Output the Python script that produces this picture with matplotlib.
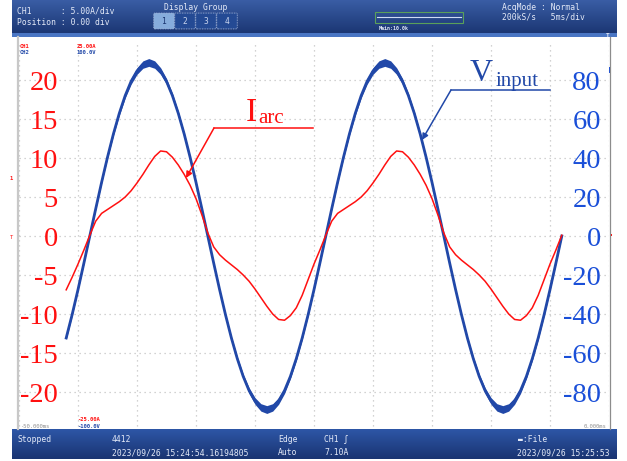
import numpy as np
import matplotlib.pyplot as plt
from matplotlib.patches import Rectangle, FancyBboxPatch

W, H = 627, 461

# sample times of the capture, 0.5 ms apart
t_ms = np.arange(-46.0, -3.75, 0.5)

# CH2: input voltage (V)
v_input = [
    -52.3, -40.4, -27.5, -13.9, 0.0, 13.9, 27.5, 40.4, 52.3, 62.9,
    72.0, 79.3, 84.6, 87.9, 89.0, 87.9, 84.6, 79.3, 72.0, 62.9,
    52.3, 40.4, 27.5, 13.9, 0.0, -13.9, -27.5, -40.4, -52.3, -62.9,
    -72.0, -79.3, -84.6, -87.9, -89.0, -87.9, -84.6, -79.3, -72.0, -62.9,
    -52.3, -40.4, -27.5, -13.9, 0.0, 13.9, 27.5, 40.4, 52.3, 62.9,
    72.0, 79.3, 84.6, 87.9, 89.0, 87.9, 84.6, 79.3, 72.0, 62.9,
    52.3, 40.4, 27.5, 13.9, 0.0, -13.9, -27.5, -40.4, -52.3, -62.9,
    -72.0, -79.3, -84.6, -87.9, -89.0, -87.9, -84.6, -79.3, -72.0, -62.9,
    -52.3, -40.4, -27.5, -13.9, 0.0,
]
# ripple band around the voltage trace (V)
v_ripple = [
    0.8, 0.6, 0.5, 0.4, 0.4, 0.4, 0.5, 0.6, 0.8, 1.0,
    1.2, 1.5, 1.7, 1.9, 2.0, 1.9, 1.7, 1.5, 1.2, 1.0,
    0.8, 0.6, 0.5, 0.4, 0.4, 0.4, 0.5, 0.6, 0.8, 1.0,
    1.2, 1.5, 1.7, 1.9, 2.0, 1.9, 1.7, 1.5, 1.2, 1.0,
    0.8, 0.6, 0.5, 0.4, 0.4, 0.4, 0.5, 0.6, 0.8, 1.0,
    1.2, 1.5, 1.7, 1.9, 2.0, 1.9, 1.7, 1.5, 1.2, 1.0,
    0.8, 0.6, 0.5, 0.4, 0.4, 0.4, 0.5, 0.6, 0.8, 1.0,
    1.2, 1.5, 1.7, 1.9, 2.0, 1.9, 1.7, 1.5, 1.2, 1.0,
    0.8, 0.6, 0.5, 0.4, 0.4,
]
# CH1: arc current (A)
i_arc = [
    -6.9, -5.3, -3.6, -1.8, 0.1, 1.9, 2.9, 3.4, 3.9, 4.4,
    5.0, 5.8, 6.8, 7.9, 9.1, 10.2, 10.9, 10.8, 10.1, 9.1,
    7.9, 6.5, 4.8, 2.7, 0.4, -1.4, -2.4, -3.1, -3.7, -4.3,
    -5.0, -5.8, -6.8, -7.9, -9.0, -10.0, -10.7, -10.8, -10.2, -9.2,
    -7.6, -5.6, -3.6, -1.8, 0.1, 1.9, 2.9, 3.4, 3.9, 4.4,
    5.0, 5.8, 6.8, 7.9, 9.1, 10.2, 10.9, 10.8, 10.1, 9.1,
    7.9, 6.5, 4.8, 2.7, 0.4, -1.4, -2.4, -3.1, -3.7, -4.3,
    -5.0, -5.8, -6.8, -7.9, -9.0, -10.0, -10.7, -10.8, -10.2, -9.2,
    -7.6, -5.6, -3.6, -1.8, 0.1,
]

cur_ticks = [20, 15, 10, 5, 0, -5, -10, -15, -20]
volt_ticks = [80, 60, 40, 20, 0, -20, -40, -60, -80]

RED = '#ff1010'
BLUE = '#2148a8'
LABEL_BLUE = '#1a4fd8'
BAR_TEXT = '#e4eaf8'
MONO = 'DejaVu Sans Mono'
SERIF = 'Liberation Serif'
GRID = dict(color='#c4c4c4', lw=0.9, ls=(0, (1, 3)))


def fx(x):
    return x / W


def fy(y):
    return 1 - y / H


fig = plt.figure(figsize=(W / 100, H / 100), dpi=100)
fig.patch.set_facecolor('white')

# --- waveform area -------------------------------------------------------
# current axis (left scale) and voltage axis (right scale)
ax_i = fig.add_axes([fx(19), fy(431), 590 / W, 390 / H])
ax_v = ax_i.twinx()

ax_i.set_xlim(-50, 0)
ax_i.set_ylim(-25, 25)
ax_v.set_ylim(-100, 100)
for a in (ax_i, ax_v):
    for s in a.spines.values():
        s.set_visible(False)
ax_i.set_xticks(np.arange(-50, 1, 5))
ax_i.set_yticks(cur_ticks)
ax_i.set_yticklabels([str(c) for c in cur_ticks])
ax_i.set_yticks([-25, 25], minor=True)
ax_i.grid(True, **GRID)
ax_i.tick_params(length=0, labelbottom=False)
ax_i.tick_params(axis='y', which='both', length=0, pad=-28, labelsize=20.5,
                 labelcolor=RED)
for lab in ax_i.get_yticklabels():
    lab.set_fontfamily(SERIF)

ax_v.set_yticks(volt_ticks)
ax_v.set_yticklabels([str(v) for v in volt_ticks])
ax_v.tick_params(axis='y', length=0, pad=-5.8, labelsize=20.5,
                 labelcolor=LABEL_BLUE)
for lab in ax_v.get_yticklabels():
    lab.set_fontfamily(SERIF)
    lab.set_horizontalalignment('right')

v = np.array(v_input)
rip = np.array(v_ripple)
ax_v.fill_between(t_ms, v - rip, v + rip, color=BLUE, lw=0, zorder=2)
ax_v.plot(t_ms, v, color=BLUE, lw=2.0, zorder=2, solid_joinstyle='round')

# current drawn over the voltage trace
ax_c = ax_i.twinx()
ax_c.set_ylim(-25, 25)
ax_c.set_axis_off()
ax_c.plot(t_ms, i_arc, color=RED, lw=1.1, zorder=3)


# arrowed labels
def ax_pt(x, y):
    return ((x - 19) / 590, (431 - y) / 390)


ax_c.plot(*zip(ax_pt(214, 128), ax_pt(313, 128)), transform=ax_c.transAxes,
          color=RED, lw=1.1, clip_on=False)
ax_c.annotate('', xy=ax_pt(186, 178), xytext=ax_pt(214, 128),
              xycoords='axes fraction', textcoords='axes fraction',
              arrowprops=dict(arrowstyle='-|>', color=RED, lw=1.1,
                              mutation_scale=9, shrinkA=0, shrinkB=0))
fig.text(fx(246), fy(121), 'I', color=RED, fontsize=24, family=SERIF)
fig.text(fx(258), fy(123), 'arc', color=RED, fontsize=15, family=SERIF)

ax_c.plot(*zip(ax_pt(451, 90), ax_pt(550, 90)), transform=ax_c.transAxes,
          color=BLUE, lw=1.1, clip_on=False)
ax_c.annotate('', xy=ax_pt(422, 140), xytext=ax_pt(451, 90),
              xycoords='axes fraction', textcoords='axes fraction',
              arrowprops=dict(arrowstyle='-|>', color=BLUE, lw=1.1,
                              mutation_scale=9, shrinkA=0, shrinkB=0))
fig.text(fx(470), fy(81), 'V', color=BLUE, fontsize=23, family=SERIF)
fig.text(fx(496), fy(86), 'input', color=BLUE, fontsize=15, family=SERIF)

# frame edges of the screen area
fig.add_artist(plt.Line2D([fx(18), fx(18)], [fy(37), fy(429)], color='#c8c8c8', lw=1.6))
fig.add_artist(plt.Line2D([fx(609.5), fx(609.5)], [fy(37), fy(429)], color='#8c8c8c', lw=0.9))

# channel scale notes inside the grid
fig.text(fx(20), fy(47.5), 'CH1', color=RED, fontsize=4, family=MONO, weight='bold')
fig.text(fx(77), fy(47.5), '25.00A', color=RED, fontsize=4, family=MONO, weight='bold')
fig.text(fx(20), fy(54.5), 'CH2', color=BLUE, fontsize=4, family=MONO, weight='bold')
fig.text(fx(77), fy(54.5), '100.0V', color=BLUE, fontsize=4, family=MONO, weight='bold')
fig.text(fx(77), fy(421), '-25.00A', color=RED, fontsize=4, family=MONO, weight='bold')
fig.text(fx(77), fy(427.5), '-100.0V', color=BLUE, fontsize=4, family=MONO, weight='bold')
fig.text(fx(20), fy(427.5), '-50.000ms', color='#909090', fontsize=4, family=MONO)
fig.text(fx(606), fy(427.5), '0.000ms', color='#909090', fontsize=4, family=MONO, ha='right')

# level markers on the screen edges
fig.text(fx(10), fy(180), '1', color=RED, fontsize=4, family=MONO, weight='bold')
fig.text(fx(10), fy(239), 'T', color=RED, fontsize=4, family=MONO)
fig.add_artist(Rectangle((fx(610), fy(236)), 2 / W, 2 / H, color=RED, lw=0))
fig.add_artist(Rectangle((fx(609), fy(73)), 2 / W, 6 / H, color=LABEL_BLUE, lw=0))


# --- status bars -----------------------------------------------------------
def bar(y0, y1, top_col, bot_col):
    a = fig.add_axes([fx(12), fy(y1), 605 / W, (y1 - y0) / H])
    c0 = np.array(plt.matplotlib.colors.to_rgb(top_col))
    c1 = np.array(plt.matplotlib.colors.to_rgb(bot_col))
    g = np.linspace(0, 1, 32)[:, None]
    img = (c0 * (1 - g) + c1 * g)[:, None, :]
    a.imshow(img, aspect='auto', extent=[0, 1, 0, 1])
    a.set_axis_off()
    return a


bar(0, 33, '#3a5ea6', '#1c3774')
fig.add_artist(Rectangle((fx(12), fy(37)), 605 / W, 4 / H, color='#4a76c4', lw=0))
bar(429, 459, '#2d56a6', '#1a3472')

fig.text(fx(17), fy(14), 'CH1      : 5.00A/div', color=BAR_TEXT, fontsize=5.8, family=MONO)
fig.text(fx(17), fy(25), 'Position : 0.00 div', color=BAR_TEXT, fontsize=5.8, family=MONO)
fig.text(fx(196), fy(10), 'Display Group', color=BAR_TEXT, fontsize=5.8, family=MONO, ha='center')
for k, x0 in enumerate([154, 175, 196, 217]):
    face = '#86acdc' if k == 0 else '#244a94'
    fig.add_artist(FancyBboxPatch((fx(x0 + 1), fy(28)), 18 / W, 14 / H,
                                  boxstyle='round,pad=0.002', fc=face,
                                  ec='#aebfe0', lw=0.6, ls=(0, (1, 1))))
    fig.text(fx(x0 + 10), fy(21), str(k + 1), color='#1b3570' if k == 0 else '#c8d4ee',
             fontsize=5.8, family=MONO, ha='center', va='center')
fig.add_artist(Rectangle((fx(375), fy(23)), 88 / W, 11 / H, fill=False, ec='#5aa05a', lw=0.8))
fig.add_artist(plt.Line2D([fx(377), fx(461)], [fy(17.5), fy(17.5)], color='#d0dcf4', lw=0.8))
fig.text(fx(379), fy(30), 'Main:10.0k', color=BAR_TEXT, fontsize=3.6, family=MONO, weight='bold')
fig.text(fx(502), fy(10), 'AcqMode : Normal', color=BAR_TEXT, fontsize=5.8, family=MONO)
fig.text(fx(502), fy(20), '200kS/s   5ms/div', color=BAR_TEXT, fontsize=5.8, family=MONO)
fig.text(fx(606), fy(37), 'T', color=BAR_TEXT, fontsize=4.5, family=MONO, weight='bold')

fig.text(fx(17), fy(442), 'Stopped', color=BAR_TEXT, fontsize=5.8, family=MONO)
fig.text(fx(112), fy(442), '4412', color=BAR_TEXT, fontsize=5.8, family=MONO)
fig.text(fx(112), fy(455), '2023/09/26 15:24:54.16194805', color=BAR_TEXT, fontsize=5.8, family=MONO)
fig.text(fx(278), fy(442), 'Edge', color=BAR_TEXT, fontsize=5.8, family=MONO)
fig.text(fx(278), fy(455), 'Auto', color=BAR_TEXT, fontsize=5.8, family=MONO)
fig.text(fx(324), fy(442), 'CH1 \u0283', color=BAR_TEXT, fontsize=5.8, family=MONO)
fig.text(fx(324), fy(455), '7.10A', color=BAR_TEXT, fontsize=5.8, family=MONO)
fig.text(fx(518), fy(442), '\u25ac:File', color=BAR_TEXT, fontsize=5.8, family=MONO)
fig.text(fx(517), fy(455), '2023/09/26 15:25:53', color=BAR_TEXT, fontsize=5.8, family=MONO)

fig.savefig('out.png', dpi=100)
